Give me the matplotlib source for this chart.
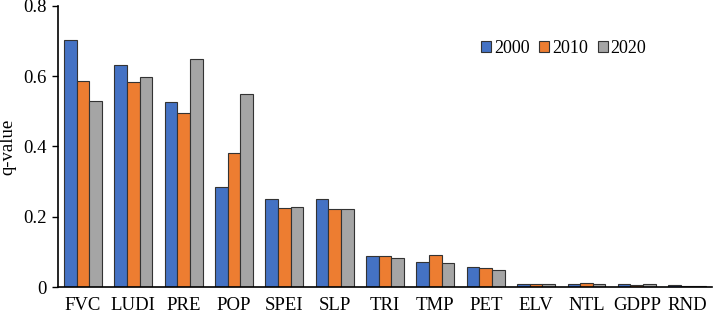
"""
Grouped bar chart of q-values for three years.
"""

import numpy as np
import matplotlib.pyplot as plt
from matplotlib.ticker import FuncFormatter

factors = ['FVC', 'LUDI', 'PRE', 'POP', 'SPEI', 'SLP', 'TRI', 'TMP',
           'PET', 'ELV', 'NTL', 'GDPP', 'RND']
years = ['2000', '2010', '2020']
q_2000 = [0.702, 0.631, 0.526, 0.285, 0.251, 0.250, 0.087, 0.071,
          0.056, 0.008, 0.008, 0.010, 0.005]
q_2010 = [0.586, 0.583, 0.494, 0.382, 0.224, 0.221, 0.087, 0.092,
          0.054, 0.010, 0.012, 0.007, 0.004]
q_2020 = [0.529, 0.599, 0.650, 0.549, 0.227, 0.222, 0.083, 0.067,
          0.048, 0.010, 0.008, 0.008, 0.004]
colors = ['#4472C4', '#ED7D31', '#A5A5A5']

plt.rcParams['font.family'] = ['Liberation Serif', 'DejaVu Serif']

fig = plt.figure(figsize=(7.13, 3.13), dpi=100)
ax = fig.add_axes([0.081, 0.083, 0.918, 0.898])

x = np.arange(len(factors))
width = 0.25
for i, (vals, year) in enumerate(zip([q_2000, q_2010, q_2020], years)):
    ax.bar(x + (i - 1) * width, vals, width, color=colors[i],
           edgecolor='#333333', linewidth=0.8, label=year)

ax.set_xlim(-0.5, len(factors) - 0.5)
ax.set_ylim(0, 0.8)
ax.set_yticks([0, 0.2, 0.4, 0.6, 0.8])
ax.yaxis.set_major_formatter(FuncFormatter(lambda v, p: '0' if v == 0 else '%.1f' % v))
ax.set_xticks(x)
ax.set_xticklabels(factors)
ax.tick_params(axis='x', length=0, pad=7, labelsize=13.5)
ax.tick_params(axis='y', length=4, width=1, pad=4, labelsize=13.5)
ax.set_ylabel('q-value', fontsize=13.5, labelpad=5)

for side in ['top', 'right']:
    ax.spines[side].set_visible(False)
for side in ['left', 'bottom']:
    ax.spines[side].set_linewidth(1.2)

ax.legend(loc='upper left', bbox_to_anchor=(0.636, 0.905), ncol=3, frameon=False,
          fontsize=13, handlelength=0.55, handleheight=0.55, handletextpad=0.15,
          columnspacing=0.55, borderaxespad=0)

fig.savefig('out.png', dpi=100)
